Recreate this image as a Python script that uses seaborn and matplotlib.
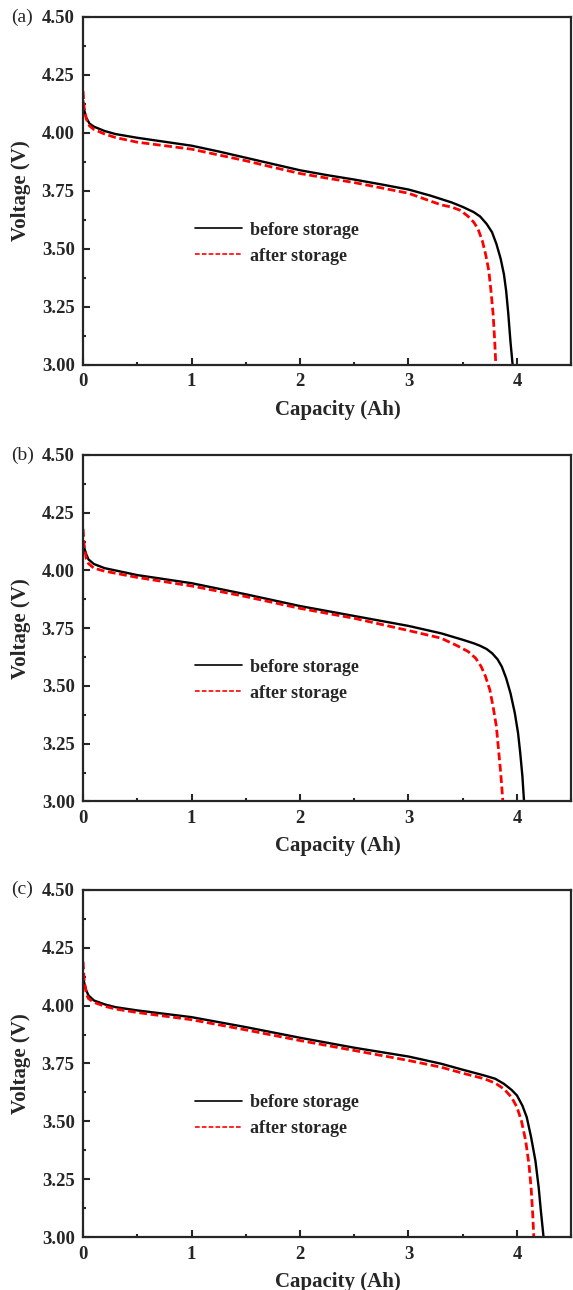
import numpy as np
import pandas as pd
import seaborn as sns
import matplotlib.pyplot as plt
from matplotlib.ticker import MultipleLocator

# =========================
# discharge curves, before / after storage
# =========================

panel_labels = ["(a)", "(b)", "(c)"]
series_names = ["before storage", "after storage"]

cap_a_before = [0, 0.01, 0.03, 0.06, 0.1, 0.2, 0.3, 0.5, 0.75, 1.0, 1.25, 1.5, 1.75, 2.0, 2.25, 2.5,
                2.75, 3.0, 3.2, 3.4, 3.5, 3.6, 3.66, 3.72, 3.77, 3.81, 3.85, 3.88, 3.90, 3.92,
                3.94, 3.96]
volt_a_before = [4.14, 4.10, 4.065, 4.04, 4.027, 4.008, 3.995, 3.979, 3.962, 3.945, 3.92, 3.893,
                 3.866, 3.839, 3.818, 3.799, 3.778, 3.756, 3.73, 3.70, 3.681, 3.659, 3.64, 3.608,
                 3.572, 3.522, 3.457, 3.39, 3.32, 3.22, 3.10, 3.00]
cap_a_after = [0, 0.01, 0.03, 0.06, 0.1, 0.2, 0.3, 0.5, 0.75, 1.0, 1.25, 1.5, 1.75, 2.0, 2.25, 2.5,
               2.75, 3.0, 3.3, 3.4, 3.48, 3.55, 3.6, 3.64, 3.68, 3.71, 3.74, 3.76, 3.78, 3.795,
               3.805]
volt_a_after = [4.18, 4.11, 4.06, 4.03, 4.015, 3.995, 3.98, 3.96, 3.945, 3.93, 3.905, 3.88, 3.852,
                3.825, 3.805, 3.786, 3.763, 3.74, 3.69, 3.68, 3.666, 3.64, 3.616, 3.587, 3.536,
                3.479, 3.407, 3.32, 3.22, 3.10, 3.00]

cap_b_before = [0, 0.01, 0.03, 0.05, 0.1, 0.2, 0.3, 0.5, 1.0, 1.5, 2.0, 2.5, 3.0, 3.3, 3.5, 3.6,
                3.66, 3.72, 3.77, 3.82, 3.86, 3.90, 3.94, 3.98, 4.01, 4.03, 4.05, 4.065]
volt_b_before = [4.13, 4.10, 4.07, 4.048, 4.028, 4.01, 4.0, 3.98, 3.945, 3.897, 3.846, 3.803, 3.76,
                 3.728, 3.70, 3.685, 3.674, 3.66, 3.642, 3.616, 3.584, 3.534, 3.469, 3.383, 3.296,
                 3.21, 3.109, 3.00]
cap_b_after = [0, 0.01, 0.03, 0.05, 0.1, 0.2, 0.3, 0.5, 1.0, 1.5, 2.0, 2.5, 3.0, 3.3, 3.45, 3.55,
               3.62, 3.67, 3.71, 3.75, 3.78, 3.81, 3.83, 3.85, 3.87]
volt_b_after = [4.18, 4.11, 4.05, 4.03, 4.01, 3.997, 3.988, 3.97, 3.933, 3.887, 3.836, 3.793, 3.74,
                3.707, 3.674, 3.649, 3.62, 3.584, 3.541, 3.483, 3.41, 3.325, 3.224, 3.123, 3.00]

cap_c_before = [0, 0.01, 0.03, 0.05, 0.1, 0.2, 0.3, 0.5, 1.0, 1.5, 2.0, 2.5, 3.0, 3.3, 3.5, 3.7,
                3.8, 3.88, 3.95, 4.0, 4.05, 4.09, 4.13, 4.17, 4.20, 4.22, 4.245]
volt_c_before = [4.14, 4.10, 4.065, 4.044, 4.022, 4.005, 3.993, 3.979, 3.95, 3.907, 3.861, 3.818,
                 3.78, 3.749, 3.723, 3.698, 3.684, 3.662, 3.636, 3.612, 3.568, 3.518, 3.432, 3.33,
                 3.215, 3.115, 3.00]
cap_c_after = [0, 0.01, 0.03, 0.05, 0.1, 0.2, 0.3, 0.5, 1.0, 1.5, 2.0, 2.5, 3.0, 3.3, 3.5, 3.7,
               3.8, 3.88, 3.95, 4.0, 4.04, 4.08, 4.11, 4.13, 4.145, 4.155]
volt_c_after = [4.19, 4.11, 4.05, 4.03, 4.014, 3.997, 3.985, 3.97, 3.939, 3.895, 3.849, 3.806,
                3.763, 3.734, 3.708, 3.684, 3.665, 3.64, 3.604, 3.561, 3.504, 3.417, 3.316, 3.215,
                3.10, 3.00]

panels = [
    (cap_a_before, volt_a_before, cap_a_after, volt_a_after),
    (cap_b_before, volt_b_before, cap_b_after, volt_b_after),
    (cap_c_before, volt_c_before, cap_c_after, volt_c_after),
]

sns.set_style("ticks")
plt.rcParams["font.family"] = ["Liberation Serif", "DejaVu Serif"]
plt.rcParams["font.weight"] = "bold"

fig = plt.figure(figsize=(5.73, 12.9), dpi=100)
# axes boxes (left, bottom, width, height) in figure fraction
boxes = [
    (0.1449, 0.7171, 0.852, 0.2698),
    (0.1449, 0.3787, 0.852, 0.2686),
    (0.1449, 0.0409, 0.852, 0.2694),
]

for label, box, (cb, vb, ca, va) in zip(panel_labels, boxes, panels):
    ax = fig.add_axes(box)
    sns.lineplot(x=cb, y=vb, ax=ax, color="black", linewidth=1.7,
                 label=series_names[0], sort=False, estimator=None)
    sns.lineplot(x=ca, y=va, ax=ax, color="#ff0000", linewidth=2.0,
                 label=series_names[1], sort=False, estimator=None)
    ax.lines[-1].set_dashes([2.8, 1.3])

    ax.set_xlim(0, 4.5)
    ax.set_ylim(3.0, 4.5)
    ax.xaxis.set_major_locator(MultipleLocator(1))
    ax.xaxis.set_minor_locator(MultipleLocator(0.5))
    ax.yaxis.set_major_locator(MultipleLocator(0.25))
    ax.yaxis.set_minor_locator(MultipleLocator(0.125))
    ax.yaxis.set_major_formatter(plt.FormatStrFormatter("%.2f"))
    ax.tick_params(which="both", direction="in", top=False, right=False, width=1.5)
    ax.tick_params(which="major", length=5, labelsize=13.5, pad=6)
    ax.tick_params(which="minor", length=2.5)
    for t in ax.get_xticklabels() + ax.get_yticklabels():
        t.set_fontweight("bold")
    for s in ax.spines.values():
        s.set_linewidth(1.6)
        s.set_visible(True)

    ax.set_xlabel("Capacity (Ah)", fontsize=15, fontweight="bold")
    ax.xaxis.set_label_coords(0.522, -0.1)
    ax.set_ylabel("Voltage (V)", fontsize=15, fontweight="bold", labelpad=8)

    leg = ax.legend(loc="center left", bbox_to_anchor=(0.229, 0.35), frameon=False,
                    fontsize=13, handlelength=2.6, handletextpad=0.45, labelspacing=0.5,
                    borderpad=0, borderaxespad=0)
    for h in leg.legend_handles:
        h.set_linewidth(1.2)
    for t in leg.get_texts():
        t.set_fontweight("bold")

    fig.text(0.02, box[1] + box[3], label, fontsize=14, fontweight="normal",
             ha="left", va="center")

fig.savefig("out.png", dpi=100)
plt.close(fig)
